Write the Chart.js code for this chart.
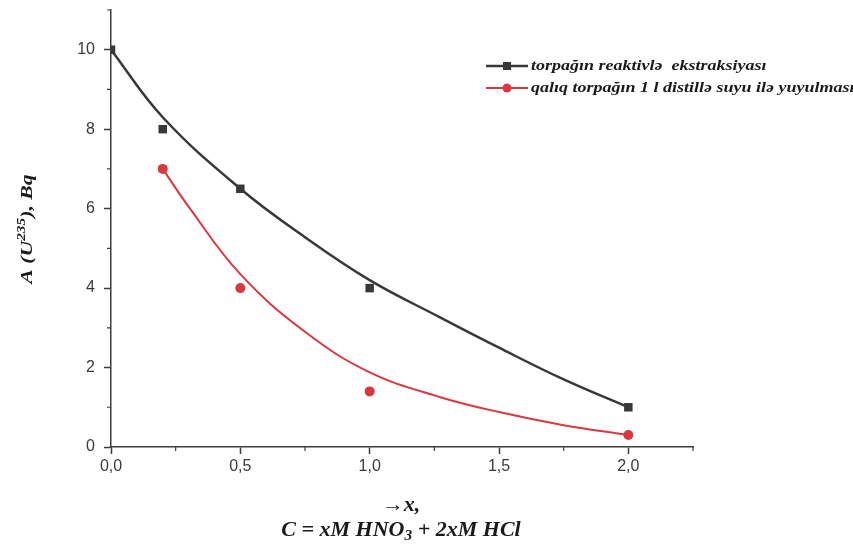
<!DOCTYPE html>
<html>
<head>
<meta charset="utf-8">
<title>U-235 aktivliyi</title>
<script src="https://cdn.jsdelivr.net/npm/chart.js"></script>
<style>
  html, body { margin: 0; padding: 0; background: #fff; }
  #wrap { width: 853px; height: 547px; position: relative; }
</style>
</head>
<body>
<div id="wrap"><canvas id="aChart" width="853" height="547"></canvas></div>
<script>
// measured points
const xSoil = [0, 0.2, 0.5, 1.0, 2.0];
const aSoil = [10, 8, 6.5, 4, 1];
const xWash = [0.2, 0.5, 1.0, 2.0];
const aWash = [7, 4, 1.4, 0.3];

// fitted curves
const fitSoilX = [0, 0.2, 0.5, 0.75, 1.0, 1.27, 1.5, 1.75, 2.0];
const fitSoilY = [10, 8.3, 6.5, 5.28, 4.2, 3.27, 2.5, 1.7, 1.0];
const fitWashX = [0.2, 0.3, 0.5, 0.75, 1.0, 1.27, 1.5, 1.75, 2.0];
const fitWashY = [7, 6.05, 4.35, 2.9, 1.88, 1.26, 0.88, 0.55, 0.3];

const xTicks = [0, 0.5, 1.0, 1.5, 2.0];
const xMinor = [0.25, 0.75, 1.25, 1.75, 2.25];
const yTicks = [0, 2, 4, 6, 8, 10];
const yMinor = [1, 3, 5, 7, 9, 11];

const seriesLabels = [
  'torpağın reaktivlə  ekstraksiyası',
  'qalıq torpağın 1 l distillə suyu ilə yuyulması'
];

const BLACK = '#383838';
const RED = '#d8383f';
const AXIS = '#3c3c3c';
const SERIF = '"Liberation Serif", "Times New Roman", serif';

function pts(xs, ys) { return xs.map((x, i) => ({ x: x, y: ys[i] })); }

// text line with sub/superscript parts, centred on (cx, cy), stretched by sx
function richText(ctx, parts, cx, cy, size, sx) {
  const main = 'italic bold ' + size + 'px ' + SERIF;
  const small = 'italic bold ' + Math.round(size * 0.7) + 'px ' + SERIF;
  let w = 0;
  parts.forEach(p => {
    ctx.font = p.sup || p.sub ? small : main;
    p.w = ctx.measureText(p.t).width;
    w += p.w;
  });
  ctx.save();
  ctx.translate(cx, cy);
  ctx.scale(sx || 1, 1);
  let x = -w / 2;
  ctx.textAlign = 'left';
  ctx.textBaseline = 'middle';
  parts.forEach(p => {
    ctx.font = p.sup || p.sub ? small : main;
    let dy = 0;
    if (p.sup) dy = -size * 0.38;
    if (p.sub) dy = size * 0.28;
    ctx.fillText(p.t, x, dy);
    x += p.w;
  });
  ctx.restore();
}

const extras = {
  id: 'extras',
  afterDraw(chart) {
    const ctx = chart.ctx;
    const xs = chart.scales.x, ys = chart.scales.y;
    const area = chart.chartArea;
    ctx.save();
    // minor ticks
    ctx.strokeStyle = AXIS;
    ctx.lineWidth = 1.2;
    ctx.beginPath();
    xMinor.forEach(v => {
      const px = xs.getPixelForValue(v);
      ctx.moveTo(px, area.bottom);
      ctx.lineTo(px, area.bottom + 4);
    });
    yMinor.forEach(v => {
      const py = ys.getPixelForValue(v);
      ctx.moveTo(area.left, py);
      ctx.lineTo(area.left - 4, py);
    });
    ctx.stroke();

    ctx.fillStyle = '#1a1a1a';
    // y title, rotated
    ctx.save();
    ctx.translate(28, 229);
    ctx.rotate(-Math.PI / 2);
    richText(ctx, [{ t: 'A (U' }, { t: '235', sup: true }, { t: '), Bq' }], 0, 0, 17, 1.28);
    ctx.restore();

    // x titles
    richText(ctx, [{ t: '\u2192x,' }], 401, 506, 20, 1.1);
    richText(ctx, [{ t: 'C = xM HNO' }, { t: '3', sub: true }, { t: ' + 2xM HCl' }], 401, 531, 20, 1.1);

    // legend
    const rows = [
      { y: 66, color: BLACK, style: 'rect', label: seriesLabels[0] },
      { y: 88, color: RED, style: 'circle', label: seriesLabels[1] }
    ];
    rows.forEach(r => {
      ctx.strokeStyle = r.color;
      ctx.lineWidth = r.style === 'rect' ? 2.5 : 2;
      ctx.beginPath();
      ctx.moveTo(486, r.y);
      ctx.lineTo(528, r.y);
      ctx.stroke();
      ctx.fillStyle = r.color;
      if (r.style === 'rect') {
        ctx.fillRect(503, r.y - 4, 8, 8);
      } else {
        ctx.beginPath();
        ctx.arc(507, r.y, 4.5, 0, Math.PI * 2);
        ctx.fill();
      }
      ctx.save();
      ctx.translate(531, r.y);
      ctx.scale(1.2, 1);
      ctx.fillStyle = '#1a1a1a';
      ctx.font = 'italic bold 15px ' + SERIF;
      ctx.textAlign = 'left';
      ctx.textBaseline = 'middle';
      ctx.fillText(r.label, 0, 0);
      ctx.restore();
    });
    ctx.restore();
  }
};

new Chart(document.getElementById('aChart'), {
  type: 'scatter',
  data: {
    datasets: [
      {
        label: seriesLabels[0] + ' fit',
        data: pts(fitSoilX, fitSoilY),
        showLine: true,
        borderColor: BLACK,
        borderWidth: 2.5,
        pointRadius: 0,
        tension: 0.4
      },
      {
        label: seriesLabels[1] + ' fit',
        data: pts(fitWashX, fitWashY),
        showLine: true,
        borderColor: RED,
        borderWidth: 2,
        pointRadius: 0,
        tension: 0.4
      },
      {
        label: seriesLabels[0],
        data: pts(xSoil, aSoil),
        pointStyle: 'rect',
        pointRadius: 6,
        backgroundColor: BLACK,
        borderColor: BLACK,
        borderWidth: 0
      },
      {
        label: seriesLabels[1],
        data: pts(xWash, aWash),
        pointStyle: 'circle',
        pointRadius: 5,
        backgroundColor: RED,
        borderColor: RED,
        borderWidth: 0
      }
    ]
  },
  options: {
    responsive: false,
    animation: false,
    layout: { padding: { top: 10, right: 160, left: 0, bottom: 0 } },
    plugins: {
      legend: { display: false },
      tooltip: { enabled: false }
    },
    scales: {
      x: {
        type: 'linear',
        min: 0,
        max: 2.25,
        afterBuildTicks: s => { s.ticks = xTicks.map(v => ({ value: v })); },
        afterFit: s => { s.height = 100; s.paddingLeft = 0; s.paddingRight = 0; },
        border: { display: true, color: AXIS, width: 1.5 },
        grid: { drawOnChartArea: false, drawTicks: true, tickLength: 7, tickColor: AXIS, tickWidth: 1.5 },
        ticks: {
          color: '#3a3a3a',
          padding: 3,
          font: { family: '"Liberation Sans", Arial, sans-serif', size: 16 },
          callback: v => v.toFixed(1).replace('.', ',')
        }
      },
      y: {
        type: 'linear',
        min: 0,
        max: 11,
        afterBuildTicks: s => { s.ticks = yTicks.map(v => ({ value: v })); },
        afterFit: s => { s.width = 111; s.paddingTop = 0; s.paddingBottom = 0; },
        border: { display: true, color: AXIS, width: 1.5 },
        grid: { drawOnChartArea: false, drawTicks: true, tickLength: 7, tickColor: AXIS, tickWidth: 1.5 },
        ticks: {
          color: '#3a3a3a',
          padding: 9,
          font: { family: '"Liberation Sans", Arial, sans-serif', size: 16 },
          callback: v => String(v)
        }
      }
    }
  },
  plugins: [extras]
});
</script>
</body>
</html>
